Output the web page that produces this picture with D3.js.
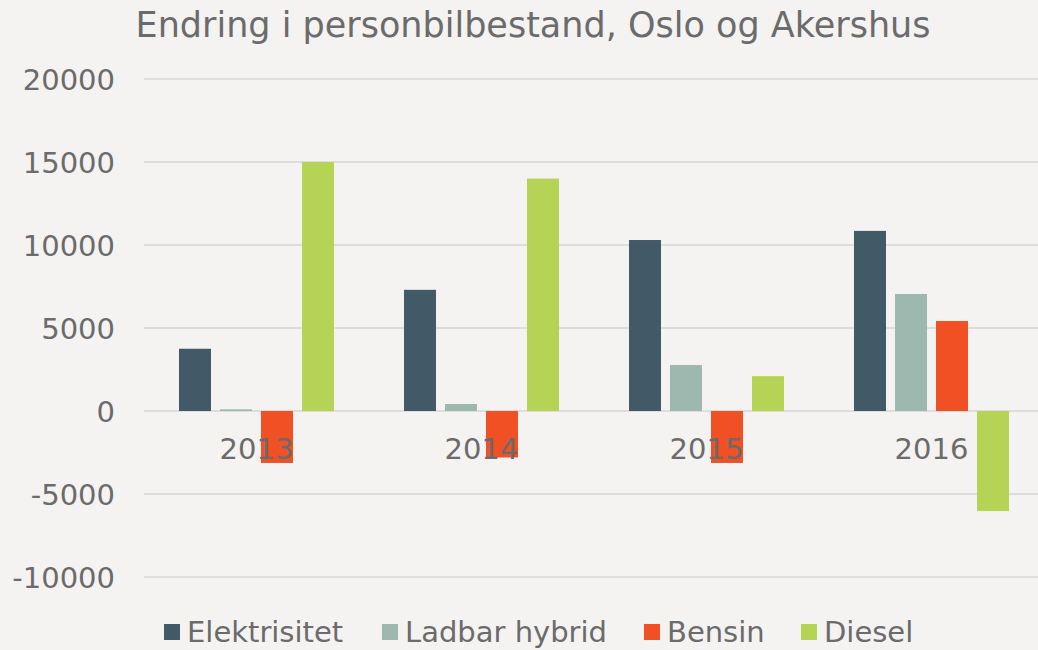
<!DOCTYPE html>
<html>
  <head>
    <meta charset="utf-8">
    <title>Endring i personbilbestand</title>
    <script type="text/javascript" src="https://d3js.org/d3.v7.min.js"></script>
    <style>
      body { margin: 0; background: #f4f3f1; }
      svg text { font-family: "DejaVu Sans", Verdana, sans-serif; fill: #6b6b6b; }
    </style>
  </head>
  <body>
    <script type="text/javascript">

      var years = ["2013", "2014", "2015", "2016"];
      var series = ["Elektrisitet", "Ladbar hybrid", "Bensin", "Diesel"];
      var elektrisitet = [3750, 7300, 10300, 10850];
      var ladbarHybrid = [100, 420, 2770, 7050];
      var bensin = [-3130, -2800, -3130, 5420];
      var diesel = [15000, 14000, 2100, -6030];
      var yTicks = [-10000, -5000, 0, 5000, 10000, 15000, 20000];
      var colors = ["#425968", "#9db8ae", "#f05023", "#b5d455"];

      var values = [elektrisitet, ladbarHybrid, bensin, diesel];

      var width = 1038;
      var height = 650;

      var svg = d3.select("body")
        .append("svg")
        .attr("width", width)
        .attr("height", height);

      var yScale = d3.scaleLinear()
        .domain([-10000, 20000])
        .range([577, 79]);

      var xScale = d3.scaleBand()
        .domain(years)
        .range([144, 1044]);

      var inner = d3.scaleBand()
        .domain(series)
        .range([0, 155])
        .paddingInner(0.22);

      // grid lines
      svg.append("g")
        .selectAll("line")
        .data(yTicks)
        .enter()
        .append("line")
        .attr("x1", 144)
        .attr("x2", width)
        .attr("y1", function(d) { return yScale(d); })
        .attr("y2", function(d) { return yScale(d); })
        .attr("stroke", "#dedddb")
        .attr("stroke-width", 2);

      var y_axis = d3.axisLeft(yScale)
        .tickValues(yTicks)
        .tickSize(0)
        .tickPadding(0)
        .tickFormat(function(d) { return String(d); });

      svg.append("g")
        .attr("class", "y axis")
        .attr("transform", "translate(115,0)")
        .call(y_axis)
        .call(function(g) { g.select(".domain").remove(); })
        .selectAll("text")
        .style("font-size", "29px")
        .attr("dy", "0.35em");

      // bars
      series.forEach(function(s, si) {
        svg.append("g")
          .selectAll("rect")
          .data(values[si])
          .enter()
          .append("rect")
          .attr("x", function(d, i) {
            return xScale(years[i]) + (xScale.bandwidth() - 155) / 2 + inner(s);
          })
          .attr("y", function(d) { return yScale(Math.max(0, d)); })
          .attr("width", inner.bandwidth())
          .attr("height", function(d) { return Math.abs(yScale(d) - yScale(0)); })
          .attr("fill", colors[si]);
      });

      var x_axis = d3.axisBottom(xScale)
        .tickSize(0)
        .tickPadding(0);

      svg.append("g")
        .attr("class", "x axis")
        .attr("transform", "translate(0,438)")
        .call(x_axis)
        .call(function(g) { g.select(".domain").remove(); })
        .selectAll("text")
        .style("font-size", "29px")
        .attr("dy", "0.71em");

      svg.append("text")
        .attr("x", 533)
        .attr("y", 37)
        .attr("text-anchor", "middle")
        .style("font-size", "35px")
        .text("Endring i personbilbestand, Oslo og Akershus");

      // legend
      var legendX = [164, 382, 644, 801];
      var legend = svg.append("g").attr("class", "legend");

      legend.selectAll("rect")
        .data(series)
        .enter()
        .append("rect")
        .attr("x", function(d, i) { return legendX[i]; })
        .attr("y", 624)
        .attr("width", 16)
        .attr("height", 16)
        .style("fill", function(d, i) { return colors[i]; });

      legend.selectAll("text")
        .data(series)
        .enter()
        .append("text")
        .attr("x", function(d, i) { return legendX[i] + 23; })
        .attr("y", 642)
        .style("font-size", "29px")
        .text(function(d) { return d; });

    </script>
  </body>
</html>
